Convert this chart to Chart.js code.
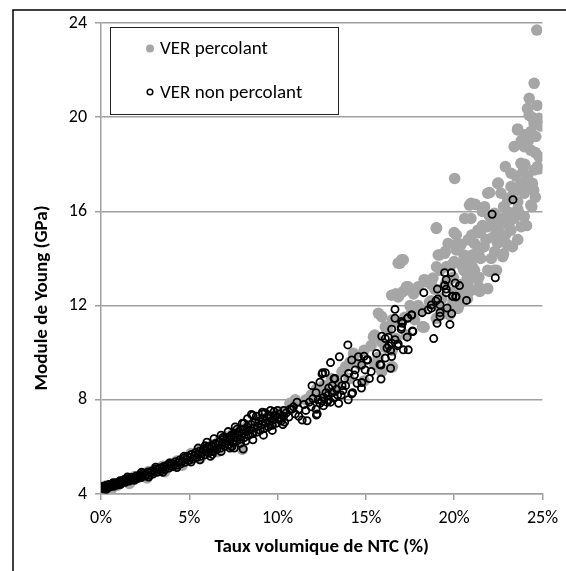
<!DOCTYPE html>
<html><head><meta charset="utf-8">
<script src="https://cdn.jsdelivr.net/npm/chart.js@4.4.1/dist/chart.umd.min.js"></script>
<style>html,body{margin:0;padding:0;background:#fff;overflow:hidden}canvas{display:block}</style>
</head><body>
<canvas id="c" width="566" height="571"></canvas>
<script>
const seriesNames = ['VER percolant', 'VER non percolant'];
const xTickLabels = ['0%', '5%', '10%', '15%', '20%', '25%'];
const yTickLabels = ['4', '8', '12', '16', '20', '24'];
const xTitle = 'Taux volumique de NTC (%)';
const yTitle = 'Module de Young (GPa)';

// VER percolant (grey filled markers): [x %, E GPa]
const percolantBand = [
[0.1,4.3],[0.3,4.35],[0.5,4.28],[0.7,4.42],[0.9,4.36],[1.1,4.5],[1.3,4.55],[1.5,4.62],[1.7,4.58],[1.9,4.74],
[2.1,4.7],[2.3,4.86],[2.5,4.8],[2.7,4.95],[2.9,4.88],[3.1,5.08],[3.3,5.0],[3.5,5.18],[3.7,5.1],[3.9,5.28],
[4.1,5.22],[4.3,5.4],[4.5,5.32],[4.7,5.52],[4.9,5.45],[5.1,5.72],[5.3,5.58],[5.5,5.8],[5.7,5.7],[5.9,5.95],
[6.1,5.82],[6.3,6.08],[6.5,5.95],[6.7,6.25],[6.9,6.1],[7.1,6.42],[7.3,6.22],[7.5,6.6],[7.7,6.4],[7.9,6.72],
[8.0,5.9],[8.1,6.5],[8.3,6.9],[8.5,6.6],[8.7,7.05],[8.9,6.75],[9.1,7.2],[9.3,6.9],[9.5,7.3],[9.7,7.05],
[9.9,7.4],[10.1,7.2],[10.3,7.5],[10.7,7.85],[11.0,8.0],
[0.6,4.22],[1.6,4.45],[2.6,4.68],[3.6,4.95],[4.6,5.22],[5.6,5.5],[6.6,5.8],[7.6,6.1]
];
const percolantHigh = [
[11.6,8.0],[11.9,8.2],[12.2,8.45],[12.4,8.2],[12.6,8.6],[12.9,8.3],[13.05,8.9],[13.3,8.7],[13.4,8.6],[13.65,9.2],
[13.85,9.4],[14.05,8.9],[14.1,9.6],[14.3,9.97],[14.35,9.9],[14.65,9.5],[14.9,10.1],[14.9,8.8],[15.3,10.3],[15.43,10.68],
[15.5,10.75],[15.5,9.5],[15.7,9.8],[15.71,11.67],[15.9,10.45],[15.9,9.2],[15.9,11.53],[16.1,11.1],[16.1,10.22],[16.24,11.0],
[16.46,12.44],[16.46,9.4],[16.5,11.4],[16.5,10.1],[16.5,9.4],[16.7,12.5],[16.7,10.6],[16.8,11.3],[16.83,12.37],[16.83,13.8],
[16.93,13.8],[17.02,13.94],[17.12,13.94],[16.9,12.45],[17.12,12.6],[17.2,11.5],[17.3,12.73],[17.3,12.8],[17.3,10.75],[17.4,12.8],
[17.5,12.0],[17.6,11.75],[17.7,12.5],[17.76,11.4],[17.96,12.8],[17.96,12.0],[18.1,11.8],[18.15,11.8],[18.2,11.1],[18.24,11.1],
[18.3,11.08],[18.3,13.1],[18.34,13.09],[18.34,13.02],[18.6,12.15],[18.7,12.2],[18.7,12.9],[18.8,13.17],[18.9,12.7],[18.99,11.46],
[18.99,15.28],[19.0,15.3],[19.0,12.0],[19.0,13.65],[19.1,14.15],[19.18,14.15],[19.2,13.5],[19.3,12.3],[19.36,11.66],[19.46,14.22],
[19.5,14.3],[19.5,12.9],[19.55,13.65],[19.66,14.64],[19.74,11.6],[19.75,11.8],[19.75,13.1],[19.8,13.7],[19.93,12.15],[19.95,13.2],
[20.0,15.1],[20.0,12.6],[20.0,13.87],[20.03,17.4],[20.12,15.0],[20.12,14.36],[20.15,14.6],[20.21,11.88],[20.25,12.0],[20.3,12.08],
[20.4,12.9],[20.4,13.73],[20.55,14.15],[20.55,12.6],[20.55,13.5],[20.6,15.7],[20.6,13.94],[20.6,12.34],[20.65,13.44],[20.75,13.2],
[20.75,12.3],[20.8,14.8],[20.87,16.27],[20.95,15.7],[20.95,13.85],[20.96,12.65],[20.96,16.34],[21.03,14.15],[21.03,13.65],[21.15,14.64],
[21.15,13.5],[21.2,16.3],[21.34,15.2],[21.34,13.16],[21.4,15.1],[21.4,14.3],[21.4,13.2],[21.4,12.8],[21.45,12.6],[21.5,15.14],
[21.5,14.0],[21.6,15.4],[21.72,16.2],[21.8,14.8],[21.9,15.35],[21.9,16.77],[21.9,13.5],[21.9,12.72],[22.0,16.8],[22.0,13.45],
[22.2,15.5],[22.27,13.5],[22.28,15.92],[22.3,14.3],[22.4,13.5],[22.4,15.1],[22.46,14.65],[22.47,17.19],[22.5,17.2],[22.6,15.7],
[22.65,14.93],[22.65,16.77],[22.75,14.08],[22.8,14.2],[22.8,16.2],[22.84,15.64],[22.9,17.9],[23.03,16.48],[23.1,15.4],[23.2,16.6],
[23.22,15.2],[23.22,17.62],[23.22,17.05],[23.4,15.7],[23.4,15.92],[23.4,18.75],[23.59,19.46],[23.6,14.8],[23.6,16.9],[23.6,16.41],
[23.6,16.1],[23.6,19.5],[23.78,18.04],[23.78,17.19],[23.8,15.35],[23.8,19.0],[23.97,15.78],[23.97,16.77],[23.97,18.75],[23.97,19.25],
[24.0,17.2],[24.0,18.0],[24.15,17.47],[24.15,20.37],[24.25,20.8],[24.25,20.09],[24.34,16.27],[24.34,18.6],[24.34,19.39],[24.4,16.2],
[24.43,16.91],[24.43,17.19],[24.5,16.9],[24.53,19.73],[24.53,21.44],[24.53,17.76],[24.62,19.18],[24.68,23.7],[24.72,17.9],[24.81,19.95],
[24.81,18.32],[24.9,19.63],[24.8,17.8],
[21.2,14.2],[21.7,14.5],[22.1,14.0],[22.5,15.3],[22.9,15.0],[23.3,14.5],[23.0,16.0],[23.5,17.5],[23.9,17.7],[24.2,17.0],
[24.6,18.5],[24.2,19.0],[24.7,20.5],[24.4,20.0],[22.0,15.8],[21.6,16.0],[21.0,15.0],[20.4,14.6],[20.8,13.0],[22.2,14.9],
[23.0,14.6],[23.7,15.9],[24.1,15.4],[24.6,16.6]
];

// VER non percolant (black open markers): [x %, E GPa]
const nonPercolantBand = [
[0.05,4.25],[0.1,4.32],[0.15,4.22],[0.2,4.3],[0.28,4.36],[0.33,4.25],[0.4,4.32],[0.45,4.4],[0.52,4.3],[0.6,4.36],
[0.66,4.43],[0.72,4.33],[0.8,4.42],[0.86,4.48],[0.93,4.38],[1.0,4.5],[1.08,4.56],[1.15,4.45],[1.22,4.52],[1.3,4.6],
[1.38,4.5],[1.45,4.57],[1.52,4.65],[1.6,4.55],[1.68,4.62],[1.75,4.7],[1.82,4.6],[1.9,4.68],[1.98,4.76],[2.05,4.66],
[2.12,4.74],[2.2,4.82],[2.28,4.7],[2.35,4.79],[2.42,4.88],[2.5,4.76],[2.58,4.84],[2.65,4.93],[2.72,4.8],[2.8,4.9],
[2.88,4.98],[2.95,4.86],[3.02,4.96],[3.1,5.05],[3.18,4.92],[3.25,5.02],[3.32,5.1],[3.4,4.98],[3.48,5.08],[3.55,5.17],
[3.62,5.03],[3.7,5.14],[3.78,5.24],[3.85,5.1],[3.92,5.2],[4.0,5.3],[4.08,5.16],[4.15,5.27],[4.22,5.37],[4.3,5.22],
[4.38,5.33],[4.45,5.44],[4.52,5.28],[4.6,5.4],[4.68,5.52],[4.75,5.35],[4.82,5.47],[4.9,5.6],[4.98,5.42],[5.05,5.55],
[5.12,5.68],[5.2,5.48],[5.28,5.62],[5.35,5.75],[5.42,5.55],[5.5,5.7],[5.58,5.82],[5.65,5.6],[5.72,5.76],[5.8,5.9],
[5.88,5.66],[5.95,5.84],[6.02,5.98],[6.1,5.74],[6.18,5.92],[6.25,6.05],[6.32,5.8],[6.4,6.0],[6.48,6.14],[6.55,5.88],
[6.62,6.08],[6.7,6.22],[6.78,5.95],[6.85,6.16],[6.92,6.32],[7.0,6.02],[7.08,6.25],[7.15,6.4],[7.22,6.1],[7.3,6.32],
[7.38,6.5],[7.45,6.18],[7.52,6.4],[7.6,6.58],[7.68,6.25],[7.75,6.5],[7.82,6.66],[7.9,6.32],[7.98,6.56],[8.05,6.75],
[8.12,6.4],[8.2,6.65],[8.28,6.85],[8.35,6.48],[8.42,6.72],[8.5,6.95],[8.58,6.56],[8.65,6.8],[8.72,7.05],[8.8,6.62],
[8.88,6.88],[8.95,7.1],[9.02,6.7],[9.1,6.95],[9.18,7.2],[9.25,6.78],[9.32,7.02],[9.4,7.25],[9.48,6.85],[9.55,7.08],
[9.62,7.3],[9.7,6.92],[9.78,7.15],[9.85,7.35],[9.92,7.0],[10.0,7.22],[10.1,7.4],[10.2,7.1],[10.35,7.3],[10.5,7.45],
[10.7,7.6],[10.9,7.7],[11.2,7.6],
[5.5,5.95],[6.0,6.2],[6.4,6.35],[6.8,6.5],[7.2,6.65],[7.6,6.85],[8.0,7.0],[8.3,7.2],[8.8,7.3],[9.3,7.45],
[9.6,7.55],[10.0,7.55],[5.6,5.45],[6.2,5.6],[6.8,5.8],[7.4,6.0],[7.9,6.15],[8.6,6.3],[9.2,6.5],[9.7,6.7],[10.3,6.95],
[0.3,4.2],[0.7,4.48],[1.1,4.4],[1.5,4.72],[1.9,4.58],[2.3,4.92],[2.7,4.72],[3.1,5.14],[3.5,4.92],[3.9,5.32],
[4.3,5.12],[4.7,5.6],[5.1,5.36],[5.9,6.05],[6.3,5.68],[6.9,6.4],[7.3,5.95],[7.7,6.75],[8.2,6.25]
];
const nonPercolantHigh = [
[23.33,16.5],[22.15,15.88],[22.33,13.18],[20.7,12.22],[20.3,12.85],[20.1,12.4],[19.9,12.4],[19.84,13.4],[19.46,13.4],[19.55,13.1],
[20.06,12.96],[19.46,12.86],[19.05,12.7],[19.55,12.7],[19.55,12.55],[19.93,12.4],[20.1,12.37],[18.28,12.55],[19.07,12.28],[18.97,12.2],
[18.71,12.03],[18.71,11.89],[18.53,11.82],[19.2,12.03],[19.6,11.9],[19.2,11.7],[19.2,11.55],[19.86,11.66],[19.03,11.25],[19.76,11.2],
[18.19,11.7],[17.6,11.6],[17.38,11.48],[17.07,11.25],[16.65,11.84],[16.65,11.46],[17.0,11.0],[16.46,11.0],[17.66,10.9],[17.34,10.66],
[18.84,10.6],[15.9,10.7],[16.27,10.66],[16.46,10.4],[16.83,10.37],[17.12,10.12],[17.4,10.12],[16.46,9.84],[16.1,9.77],[15.86,9.48],
[16.4,9.34],[15.86,8.88],[16.3,10.3],[16.1,10.6],[16.65,10.55],[16.4,10.1],[16.8,10.3],[16.2,10.2],[17.02,11.32],[17.36,11.46],
[17.59,11.6],[17.02,11.08],[17.64,10.92],[13.98,10.33],[13.5,9.83],[13.0,9.58],[12.52,9.1],[12.7,9.15],[14.2,9.69],[14.58,9.83],
[14.77,9.48],[15.05,9.69],[15.6,9.97],[15.8,9.5],[14.96,9.27],[14.4,9.27],[14.02,9.12],[14.77,8.73],[14.2,8.25],[13.46,7.85],
[13.65,8.6],[13.2,8.9],[12.74,8.3],[12.18,8.3],[11.8,7.9],[12.18,7.6],[11.6,7.55],[11.39,7.14],[11.67,7.11],[12.24,7.4],
[11.0,7.4],[10.36,7.55],[10.64,7.27],[9.5,7.34],[9.15,7.4],[8.6,7.34],[15.3,9.2],[15.1,9.7],[14.9,9.85],[15.2,8.9],
[14.75,8.5],[14.25,8.3],[14.35,9.05],[13.85,8.6],[13.25,8.9],[13.35,8.45],[12.85,8.2],[12.55,9.15],[12.4,8.75],[12.0,8.05],
[12.2,7.35],[11.95,8.6],[12.6,7.75],[11.1,7.9],[10.4,7.05],[10.2,7.2],[8.52,7.38],[9.14,7.47],[8.05,5.91],[7.55,5.95],
[7.35,6.45],[8.1,7.0],[9.8,7.5],[12.9,8.0],[13.1,8.3],[13.6,8.2],[13.0,7.9],[12.5,7.95],[13.8,8.9],[14.5,8.7],
[14.0,8.0],[12.3,8.0],[12.6,8.1],[12.8,7.9],[13.2,8.1],[13.4,8.2],[13.7,8.4],[12.9,8.5],[13.1,8.6],[12.4,7.85],
[11.9,7.7],[10.8,7.6],[11.2,7.3],[11.5,7.8]
];

const FONT = "Carlito, Lato, 'Open Sans', sans-serif";
const toXY = arr => arr.map(p => ({ x: p[0], y: p[1] }));
const GREY = '#a6a6a6';
const AXIS = '#a0a0a0';

const deco = {
  id: 'deco',
  beforeDraw(chart) {
    const c = chart.ctx;
    c.save(); c.fillStyle = '#fff'; c.fillRect(0, 0, chart.width, chart.height); c.restore();
  },
  afterDraw(chart) {
    const c = chart.ctx, a = chart.chartArea;
    c.save();
    // outer chart frame (cropped on right/bottom)
    c.strokeStyle = '#000'; c.lineWidth = 1.5;
    c.beginPath(); c.moveTo(a.left - 88, chart.height + 2); c.lineTo(a.left - 88, a.top - 13); c.lineTo(chart.width + 2, a.top - 13); c.stroke();
    // y axis title
    c.save();
    c.translate(a.left - 59, a.top + 275); c.rotate(-Math.PI / 2);
    c.font = 'bold 19px ' + FONT; c.fillStyle = '#000'; c.textAlign = 'center'; c.textBaseline = 'middle';
    c.fillText(yTitle, 0, 0);
    c.restore();
    // legend box
    const bx = a.left + 9, by = a.top + 4, bw = 228, bh = 87;
    c.fillStyle = '#fff'; c.fillRect(bx, by, bw, bh);
    c.strokeStyle = '#222'; c.lineWidth = 1; c.strokeRect(bx + 0.5, by + 0.5, bw, bh);
    c.font = '19px ' + FONT; c.textAlign = 'left'; c.textBaseline = 'middle';
    const rows = [a.top + 25.5, a.top + 69];
    c.fillStyle = GREY; c.beginPath(); c.arc(a.left + 49, rows[0], 4, 0, Math.PI * 2); c.fill();
    c.strokeStyle = '#000'; c.lineWidth = 1.5; c.beginPath(); c.arc(a.left + 49, rows[1], 2.8, 0, Math.PI * 2); c.stroke();
    c.fillStyle = '#000';
    c.fillText(seriesNames[0], a.left + 59, rows[0] + 1);
    c.fillText(seriesNames[1], a.left + 59, rows[1] + 1);
    c.restore();
  }
};

new Chart(document.getElementById('c').getContext('2d'), {
  type: 'scatter',
  data: {
    datasets: [
      { label: seriesNames[0], data: toXY(percolantBand.concat(percolantHigh)), pointRadius: 5.8, pointHoverRadius: 5.8,
        backgroundColor: GREY, borderWidth: 0, order: 2 },
      { label: seriesNames[1], data: toXY(nonPercolantBand.concat(nonPercolantHigh)), pointRadius: 3.6, pointHoverRadius: 3.6,
        backgroundColor: 'rgba(0,0,0,0)', borderColor: '#000', borderWidth: 1.8, order: 1 }
    ]
  },
  options: {
    responsive: false, animation: false, devicePixelRatio: 1,
    layout: { padding: { left: 0, top: 23, right: 21, bottom: 0 } },
    plugins: { legend: { display: false }, tooltip: { enabled: false } },
    scales: {
      x: {
        type: 'linear', min: 0, max: 25,
        afterFit: s => { s.height = 77; },
        ticks: { stepSize: 5, padding: 8, color: '#000', font: { family: FONT, size: 18 },
          callback: (v, i) => xTickLabels[i] },
        grid: { drawOnChartArea: false, drawTicks: true, tickLength: 6, color: AXIS, lineWidth: 1.5 },
        border: { display: true, color: AXIS, width: 1.5 },
        title: { display: true, text: xTitle, color: '#000', font: { family: FONT, size: 19, weight: 'bold' },
          padding: { top: 0, bottom: 12 } }
      },
      y: {
        type: 'linear', min: 4, max: 24,
        afterFit: s => { s.width = 101; },
        ticks: { stepSize: 4, padding: 8, color: '#000', font: { family: FONT, size: 18 },
          callback: (v, i) => yTickLabels[i] },
        grid: { drawOnChartArea: true, drawTicks: true, tickLength: 6, color: AXIS, lineWidth: 1.5 },
        border: { display: true, color: AXIS, width: 1.5 }
      }
    }
  },
  plugins: [deco]
});
</script>
</body></html>
